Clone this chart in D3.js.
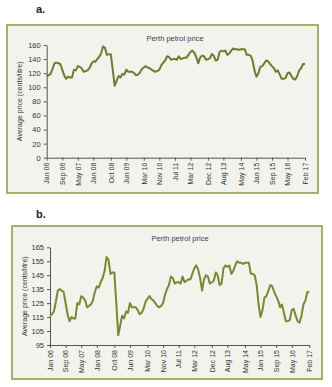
<!DOCTYPE html>
<html>
<head>
<meta charset="utf-8">
<script src="https://cdn.jsdelivr.net/npm/d3@7"></script>
<style>
  html, body { margin: 0; padding: 0; background: #fff; }
  svg { display: block; }
  text { font-family: "Liberation Sans Narrow", "Arial Narrow", "Liberation Sans", Arial, sans-serif; }
</style>
</head>
<body>
<script>
// Perth average monthly petrol price, Jan 2006 .. Feb 2017 (cents/litre)
const price = [
  116, 117, 119, 126, 134, 135, 134, 133, 125, 117, 112, 115,
  114, 114, 125, 124, 130, 129, 127, 122, 123, 124, 127, 133,
  137, 136, 140, 143, 148, 158, 156, 146, 147, 147, 125, 102,
  109, 116, 114, 119, 118, 125, 122, 122, 122, 120, 117, 118,
  121, 126, 128, 130, 128, 127, 125, 123, 122, 123, 125, 131,
  135, 138, 144, 143, 139, 140, 140, 139, 144, 140, 141, 142,
  142, 146, 150, 152, 149, 143, 134, 142, 145, 144, 139, 140,
  141, 147, 145, 138, 139, 150, 152, 151, 152, 146, 148, 152,
  155, 154, 154, 153, 154, 154, 154, 146, 146, 145, 138, 124,
  115, 120, 129, 130, 134, 138, 137, 133, 130, 127, 122, 124,
  118, 112, 112, 113, 120, 121, 116, 112, 111, 116, 124, 127,
  133, 133
];

const xTickLabels = [
  "Jan 06", "Sep 06", "May 07", "Jan 08", "Oct 08", "Jun 09", "Mar 10",
  "Nov 10", "Jul 11", "Mar 12", "Dec 12", "Aug 13", "May 14", "Jan 15",
  "Sep 15", "May 16", "Feb 17"
];

const yTicksA = [0, 20, 40, 60, 80, 100, 120, 140, 160];
const yTicksB = [95, 105, 115, 125, 135, 145, 155, 165];

const title = "Perth petrol price";
const yTitle = "Average price (cents/litre)";

const monthNames = ["Jan","Feb","Mar","Apr","May","Jun","Jul","Aug","Sep","Oct","Nov","Dec"];
// month offset from Jan 06 for a label like "Oct 08"
function monthIndex(label) {
  const [m, y] = label.split(" ");
  return (+y - 6) * 12 + monthNames.indexOf(m);
}

const svg = d3.select("body").append("svg")
  .attr("width", 332)
  .attr("height", 387);

function drawPanel(p) {
  const g = svg.append("g");

  g.append("rect")
    .attr("x", p.box[0]).attr("y", p.box[1])
    .attr("width", p.box[2]).attr("height", p.box[3])
    .attr("fill", "#f1f3ec")
    .attr("stroke", "#8a9a3a")
    .attr("stroke-width", 1.5);

  g.append("text")
    .attr("x", 36).attr("y", p.letterY)
    .attr("font-family", "Liberation Sans, Arial, sans-serif")
    .attr("font-weight", "bold")
    .attr("font-size", 11)
    .attr("fill", "#222")
    .text(p.letter);

  g.append("text")
    .attr("x", p.titleX).attr("y", p.titleY)
    .attr("text-anchor", "middle")
    .attr("font-size", 7.5)
    .attr("fill", "#3d3d5c")
    .text(title);

  const x = d3.scaleLinear().domain([0, price.length - 1]).range(p.xRange);
  const y = d3.scaleLinear().domain(p.yDomain).range(p.yRange);

  const xAxis = g.append("g")
    .attr("transform", "translate(0," + p.yRange[0] + ")")
    .call(d3.axisBottom(x)
      .tickValues(xTickLabels.map(monthIndex))
      .tickFormat((d, i) => xTickLabels[i])
      .tickSize(3).tickSizeOuter(0));
  xAxis.selectAll("text")
    .attr("transform", "rotate(-90)")
    .attr("text-anchor", "end")
    .attr("x", -5).attr("y", 0)
    .attr("dy", "0.32em")
    .attr("font-size", 7)
    .attr("font-family", null)
    .attr("fill", "#333");

  const yAxis = g.append("g")
    .attr("transform", "translate(" + p.xRange[0] + ",0)")
    .call(d3.axisLeft(y).tickValues(p.yTicks).tickSize(3).tickSizeOuter(0));
  yAxis.selectAll("text")
    .attr("font-size", 7.5)
    .attr("font-family", null)
    .attr("fill", "#333");

  g.selectAll(".domain").attr("stroke", "#555");
  g.selectAll(".tick line").attr("stroke", "#555");

  g.append("text")
    .attr("transform", "translate(" + p.yTitleX + "," + (p.yRange[0] + p.yRange[1]) / 2 + ") rotate(-90)")
    .attr("text-anchor", "middle")
    .attr("font-size", 7)
    .attr("fill", "#333")
    .text(yTitle);

  const line = d3.line()
    .x((d, i) => x(i))
    .y(d => y(d));

  g.append("path")
    .datum(price)
    .attr("d", line)
    .attr("fill", "none")
    .attr("stroke", p.lineColor)
    .attr("stroke-width", 2)
    .attr("stroke-linejoin", "round");
}

drawPanel({
  letter: "a.", letterY: 13,
  box: [7, 25, 311, 168],
  titleX: 175, titleY: 41,
  xRange: [46.7, 305], yRange: [157.7, 45],
  yDomain: [0, 160], yTicks: yTicksA,
  yTitleX: 21.5, lineColor: "#6f7c2c"
});

drawPanel({
  letter: "b.", letterY: 218,
  box: [12, 226, 310, 153],
  titleX: 180, titleY: 241,
  xRange: [50, 309.3], yRange: [345, 247.3],
  yDomain: [95, 165], yTicks: yTicksB,
  yTitleX: 26.5, lineColor: "#778a30"
});
</script>
</body>
</html>
